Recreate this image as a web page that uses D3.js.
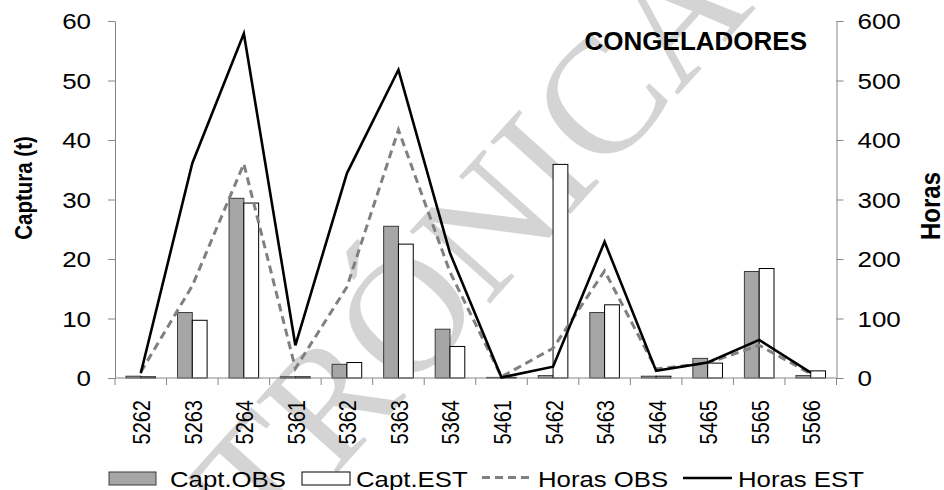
<!DOCTYPE html>
<html>
<head>
<meta charset="utf-8">
<script src="https://cdn.jsdelivr.net/npm/d3@7/dist/d3.min.js"></script>
<style>
  html, body { margin: 0; padding: 0; background: #fff; }
  svg { display: block; }
  text { font-family: "Liberation Sans", Arial, sans-serif; }
</style>
</head>
<body>
<svg id="chart" width="944" height="490"></svg>
<script>
// ---- data ----
const categories = ["5262","5263","5264","5361","5362","5363","5364","5461","5462","5463","5464","5465","5565","5566"];
const captOBS  = [0.3, 11.0, 30.2, 0.2, 2.3, 25.5, 8.2, 0.1, 0.4, 11.0, 0.3, 3.3, 17.9, 0.4];
const captEST  = [0.2, 9.7, 29.4, 0.2, 2.6, 22.5, 5.3, 0.1, 35.9, 12.3, 0.3, 2.5, 18.4, 1.2];
const horasOBS = [10, 155, 360, 16, 153, 417, 178, 2, 50, 180, 15, 25, 55, 7];
const horasEST = [8, 361, 579, 55, 344, 518, 210, 1, 19, 229, 12, 26, 64, 9];
const leftTicks  = [0, 10, 20, 30, 40, 50, 60];
const rightTicks = [0, 100, 200, 300, 400, 500, 600];
const legendLabels = ["Capt.OBS", "Capt.EST", "Horas OBS", "Horas EST"];
const titleText = "CONGELADORES";
const watermarkText = "ELECTRÓNICA";

// ---- layout ----
const svg = d3.select("#chart");
const X0 = 115, X1 = 836.5, Y0 = 378, Y1 = 21;
const axisColor = "#868686";
const sx = 1.18;

const x = d3.scaleBand().domain(categories).range([X0, X1]).padding(0);
const yL = d3.scaleLinear().domain([0, 60]).range([Y0, Y1]);
const yR = d3.scaleLinear().domain([0, 600]).range([Y0, Y1]);
const barW = 14.8;

// watermark (clipped to the picture, like the reference)
svg.append("clipPath").attr("id", "clipAll")
  .append("rect").attr("x", 0).attr("y", 0).attr("width", 944).attr("height", 490);
svg.append("g").attr("clip-path", "url(#clipAll)")
  .append("text")
  .attr("transform", "translate(332,396) rotate(-48)")
  .attr("text-anchor", "middle")
  .attr("dominant-baseline", "central")
  .style("font-family", "'Liberation Serif', 'DejaVu Serif', serif")
  .style("font-size", "165px")
  .attr("fill", "#d4d4d4")
  .text(watermarkText);

// bars
const rows = categories.map((c, i) => ({c, obs: captOBS[i], est: captEST[i]}));
const gBars = svg.append("g");
gBars.selectAll("rect.obs").data(rows).join("rect")
  .attr("class", "obs")
  .attr("x", d => x(d.c) + x.bandwidth() / 2 - barW)
  .attr("width", barW)
  .attr("y", d => yL(d.obs))
  .attr("height", d => Y0 - yL(d.obs))
  .attr("fill", "#a6a6a6").attr("stroke", "#3a3a3a").attr("stroke-width", 1);
gBars.selectAll("rect.est").data(rows).join("rect")
  .attr("class", "est")
  .attr("x", d => x(d.c) + x.bandwidth() / 2)
  .attr("width", barW)
  .attr("y", d => yL(d.est))
  .attr("height", d => Y0 - yL(d.est))
  .attr("fill", "#ffffff").attr("stroke", "#000").attr("stroke-width", 1);

// left axis
const gL = svg.append("g").attr("transform", `translate(${X0},0)`)
  .call(d3.axisLeft(yL).tickValues(leftTicks).tickSize(7).tickSizeOuter(0));
gL.select(".domain").attr("stroke", axisColor);
gL.selectAll(".tick line").attr("stroke", axisColor);
gL.selectAll(".tick text")
  .attr("x", -24 / sx).attr("dy", "0.36em")
  .attr("transform", `scale(${sx},1)`)
  .attr("fill", "#000")
  .style("font-size", "22px").style("font-family", "'Liberation Sans', Arial, sans-serif");

// right axis
const gR = svg.append("g").attr("transform", `translate(${X1},0)`)
  .call(d3.axisRight(yR).tickValues(rightTicks).tickSize(7).tickSizeOuter(0));
gR.select(".domain").attr("stroke", axisColor);
gR.selectAll(".tick line").attr("stroke", axisColor);
gR.selectAll(".tick text")
  .attr("x", 21 / sx).attr("dy", "0.36em")
  .attr("transform", `scale(${sx},1)`)
  .attr("fill", "#000")
  .style("font-size", "22px").style("font-family", "'Liberation Sans', Arial, sans-serif");

// bottom axis (labels) + boundary ticks
const gB = svg.append("g").attr("transform", `translate(0,${Y0})`)
  .call(d3.axisBottom(x).tickSize(0).tickSizeOuter(0));
gB.select(".domain").remove();
gB.selectAll(".tick text")
  .attr("x", 0).attr("y", 0).attr("dy", "0.36em")
  .attr("text-anchor", "end")
  .attr("transform", `translate(1,22) scale(${sx},1) rotate(-90)`)
  .attr("fill", "#000")
  .style("font-size", "20px").style("font-family", "'Liberation Sans', Arial, sans-serif");
gB.append("line").attr("x1", X0).attr("x2", X1).attr("y1", 0).attr("y2", 0).attr("stroke", axisColor);
const bounds = categories.map(c => x(c)).concat([x(categories[categories.length - 1]) + x.bandwidth()]);
gB.selectAll("line.bt").data(bounds).join("line").attr("class", "bt")
  .attr("x1", d => d).attr("x2", d => d).attr("y1", 0).attr("y2", 7)
  .attr("stroke", axisColor);

// lines
const cx = (c) => x(c) + x.bandwidth() / 2;
const lineR = d3.line().x((d, i) => cx(categories[i])).y(d => yR(d));
svg.append("path").datum(horasOBS).attr("d", lineR)
  .attr("fill", "none").attr("stroke", "#808080").attr("stroke-width", 3)
  .attr("stroke-dasharray", "8,5");
svg.append("path").datum(horasEST).attr("d", lineR)
  .attr("fill", "none").attr("stroke", "#000").attr("stroke-width", 2.6)
  .attr("stroke-linejoin", "miter");

// title
svg.append("text")
  .attr("transform", "translate(807,50) scale(1.04,1)")
  .attr("text-anchor", "end")
  .style("font-size", "25px").style("font-weight", "bold")
  .text(titleText);

// axis titles
svg.append("text")
  .attr("transform", `translate(24,188) scale(1.15,1) rotate(-90)`)
  .attr("text-anchor", "middle").attr("dy", "0.36em")
  .style("font-size", "20.5px").style("font-weight", "bold")
  .text("Captura  (t)");
svg.append("text")
  .attr("transform", `translate(930,206) scale(1.12,1) rotate(-90)`)
  .attr("text-anchor", "middle").attr("dy", "0.36em")
  .style("font-size", "24px").style("font-weight", "bold")
  .text("Horas");

// legend
const ly = 478.5, lsx = 1.12;
const gLeg = svg.append("g");
gLeg.append("rect").attr("x", 109).attr("y", ly - 6.5).attr("width", 47).attr("height", 13)
  .attr("fill", "#a6a6a6").attr("stroke", "#3a3a3a");
gLeg.append("rect").attr("x", 302).attr("y", ly - 6.5).attr("width", 48).attr("height", 13)
  .attr("fill", "#fff").attr("stroke", "#000");
gLeg.append("line").attr("x1", 482).attr("x2", 533).attr("y1", ly - 1).attr("y2", ly - 1)
  .attr("stroke", "#808080").attr("stroke-width", 3).attr("stroke-dasharray", "8,5");
gLeg.append("line").attr("x1", 683).attr("x2", 732).attr("y1", ly - 0.5).attr("y2", ly - 0.5)
  .attr("stroke", "#000").attr("stroke-width", 2.6);
const legX = [170, 356, 538, 738];
gLeg.selectAll("text.lg").data(legendLabels).join("text").attr("class", "lg")
  .attr("transform", (d, i) => `translate(${legX[i]},${ly}) scale(${lsx},1)`)
  .attr("dy", "0.36em")
  .style("font-size", "23px")
  .text(d => d);
</script>
</body>
</html>
